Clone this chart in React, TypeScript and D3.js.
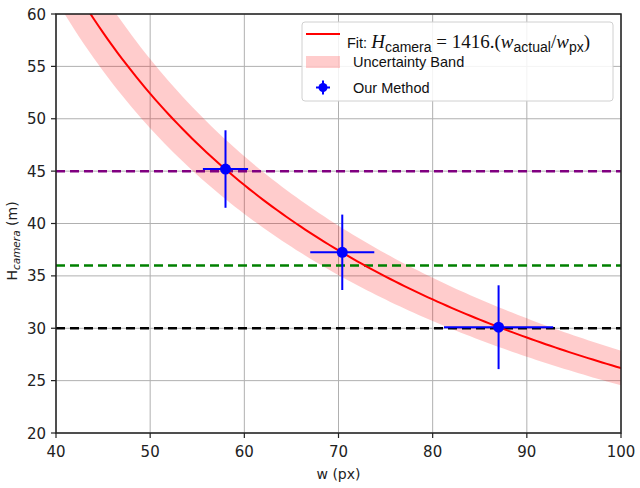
import { useRef, useEffect } from "react";
import * as d3 from "d3";

// fitted model H = k / w, with uncertainty band k ± dk
const fitK = 2620;
const fitDeltaK = 165;

const pointW = [58.0, 70.4, 87.0];
const pointH = [45.2, 37.25, 30.1];
const pointWErr = [2.4, 3.4, 5.8];
const pointHErr = [3.7, 3.6, 4.0];

const refLevels = [45, 36, 30];
const refColors = ["#800080", "#008000", "#000000"];

const xTicks = [40, 50, 60, 70, 80, 90, 100];
const yTicks = [20, 25, 30, 35, 40, 45, 50, 55, 60];

const App = () => {
  const ref = useRef<SVGSVGElement>(null);

  useEffect(() => {
    if (!ref.current) return;
    const svg = d3.select(ref.current);
    svg.selectAll("*").remove();

    const left = 56, right = 621, top = 14, bottom = 433;
    const x = d3.scaleLinear().domain([40, 100]).range([left, right]);
    const y = d3.scaleLinear().domain([20, 60]).range([bottom, top]);
    const tickFont = "DejaVu Sans";

    svg.append("defs").append("clipPath").attr("id", "plot")
      .append("rect").attr("x", left).attr("y", top)
      .attr("width", right - left).attr("height", bottom - top);

    // grid
    const grid = svg.append("g").attr("stroke", "#b0b0b0").attr("stroke-width", 1);
    grid.selectAll("line.v").data(xTicks).join("line")
      .attr("x1", (d) => x(d)).attr("x2", (d) => x(d))
      .attr("y1", top).attr("y2", bottom);
    grid.selectAll("line.h").data(yTicks).join("line")
      .attr("x1", left).attr("x2", right)
      .attr("y1", (d) => y(d)).attr("y2", (d) => y(d));

    const plot = svg.append("g").attr("clip-path", "url(#plot)");
    const ws = d3.range(38, 101, 0.5);

    const band = d3.area<number>()
      .x((w) => x(w))
      .y0((w) => y((fitK - fitDeltaK) / w))
      .y1((w) => y((fitK + fitDeltaK) / w));
    plot.append("path").datum(ws).attr("d", band)
      .attr("fill", "red").attr("fill-opacity", 0.2);

    plot.selectAll("line.ref").data(refLevels).join("line")
      .attr("x1", left).attr("x2", right)
      .attr("y1", (d) => y(d)).attr("y2", (d) => y(d))
      .attr("stroke", (d, i) => refColors[i])
      .attr("stroke-width", 2.5)
      .attr("stroke-dasharray", "9,5");

    const curve = d3.line<number>().x((w) => x(w)).y((w) => y(fitK / w));
    plot.append("path").datum(ws).attr("d", curve)
      .attr("fill", "none").attr("stroke", "red").attr("stroke-width", 2);

    // data points with error bars
    const pts = plot.append("g");
    pointW.forEach((w, i) => {
      const h = pointH[i];
      pts.append("line")
        .attr("x1", x(w - pointWErr[i])).attr("x2", x(w + pointWErr[i]))
        .attr("y1", y(h)).attr("y2", y(h))
        .attr("stroke", "#0000ff").attr("stroke-width", 2);
      pts.append("line")
        .attr("x1", x(w)).attr("x2", x(w))
        .attr("y1", y(h - pointHErr[i])).attr("y2", y(h + pointHErr[i]))
        .attr("stroke", "#0000ff").attr("stroke-width", 2);
      pts.append("circle").attr("cx", x(w)).attr("cy", y(h)).attr("r", 5.5)
        .attr("fill", "#0000ff");
    });

    // spines
    svg.append("rect").attr("x", left).attr("y", top)
      .attr("width", right - left).attr("height", bottom - top)
      .attr("fill", "none").attr("stroke", "#222").attr("stroke-width", 1.5);

    // ticks
    const xt = svg.append("g");
    xt.selectAll("line").data(xTicks).join("line")
      .attr("x1", (d) => x(d)).attr("x2", (d) => x(d))
      .attr("y1", bottom).attr("y2", bottom + 5)
      .attr("stroke", "#222").attr("stroke-width", 1.2);
    xt.selectAll("text").data(xTicks).join("text")
      .attr("x", (d) => x(d)).attr("y", bottom + 24)
      .attr("text-anchor", "middle")
      .attr("font-family", tickFont).attr("font-size", 15).attr("fill", "#222")
      .text((d) => d);

    const yt = svg.append("g");
    yt.selectAll("line").data(yTicks).join("line")
      .attr("x1", left - 5).attr("x2", left)
      .attr("y1", (d) => y(d)).attr("y2", (d) => y(d))
      .attr("stroke", "#222").attr("stroke-width", 1.2);
    yt.selectAll("text").data(yTicks).join("text")
      .attr("x", left - 10).attr("y", (d) => y(d) + 5.5)
      .attr("text-anchor", "end")
      .attr("font-family", tickFont).attr("font-size", 15).attr("fill", "#222")
      .text((d) => d);

    // axis labels
    svg.append("text").attr("x", (left + right) / 2).attr("y", 479)
      .attr("text-anchor", "middle")
      .attr("font-family", tickFont).attr("font-size", 14).attr("fill", "#222")
      .text("w (px)");

    const yl = svg.append("text")
      .attr("transform", "translate(17,241) rotate(-90)")
      .attr("text-anchor", "middle")
      .attr("font-family", tickFont).attr("font-size", 14).attr("fill", "#222");
    yl.append("tspan").text("H");
    yl.append("tspan").attr("font-size", 10.5).attr("font-style", "italic")
      .attr("dy", 3).text("camera");
    yl.append("tspan").attr("dy", -3).text(" (m)");

    // legend
    const lg = svg.append("g");
    lg.append("rect").attr("x", 302).attr("y", 22).attr("width", 311).attr("height", 79)
      .attr("rx", 3).attr("fill", "white").attr("fill-opacity", 0.85)
      .attr("stroke", "#d0d0d0").attr("stroke-width", 1);
    lg.append("line").attr("x1", 306).attr("x2", 340).attr("y1", 34).attr("y2", 34)
      .attr("stroke", "red").attr("stroke-width", 2);
    lg.append("rect").attr("x", 306).attr("y", 56).attr("width", 34).attr("height", 12)
      .attr("fill", "red").attr("fill-opacity", 0.2);
    lg.append("line").attr("x1", 316).attr("x2", 330).attr("y1", 87.5).attr("y2", 87.5)
      .attr("stroke", "#0000ff").attr("stroke-width", 2);
    lg.append("line").attr("x1", 323).attr("x2", 323).attr("y1", 80.5).attr("y2", 94.5)
      .attr("stroke", "#0000ff").attr("stroke-width", 2);
    lg.append("circle").attr("cx", 323).attr("cy", 87.5).attr("r", 4.5).attr("fill", "#0000ff");

    const sans = "Liberation Sans";
    const serif = "Liberation Serif";
    const big = 19;
    const sub = 14;
    const fit = lg.append("text").attr("x", 347).attr("y", 48)
      .attr("font-family", sans).attr("font-size", 14.5).attr("fill", "#111");
    fit.append("tspan").text("Fit:");
    fit.append("tspan").attr("font-family", serif).attr("font-style", "italic")
      .attr("font-size", big).attr("dx", 4).text("H");
    fit.append("tspan").attr("font-size", sub).attr("dy", 4).text("camera");
    fit.append("tspan").attr("font-family", serif).attr("font-size", big).attr("dy", -4)
      .text(" = 1416.(");
    fit.append("tspan").attr("font-family", serif).attr("font-style", "italic")
      .attr("font-size", big).text("w");
    fit.append("tspan").attr("font-size", sub).attr("dy", 4).text("actual");
    fit.append("tspan").attr("font-family", serif).attr("font-size", big).attr("dy", -4).text("/");
    fit.append("tspan").attr("font-family", serif).attr("font-style", "italic")
      .attr("font-size", big).text("w");
    fit.append("tspan").attr("font-size", sub).attr("dy", 4).text("px");
    fit.append("tspan").attr("font-family", serif).attr("font-size", big).attr("dy", -4).text(")");

    lg.append("text").attr("x", 353).attr("y", 67)
      .attr("font-family", sans).attr("font-size", 14.5).attr("fill", "#111")
      .text("Uncertainty Band");
    lg.append("text").attr("x", 353).attr("y", 93)
      .attr("font-family", sans).attr("font-size", 14.5).attr("fill", "#111")
      .text("Our Method");
  }, []);

  return (
    <svg
      ref={ref}
      width={640}
      height={488}
      style={{ position: "absolute", left: 0, top: 0, background: "white" }}
    />
  );
};

export default App;
